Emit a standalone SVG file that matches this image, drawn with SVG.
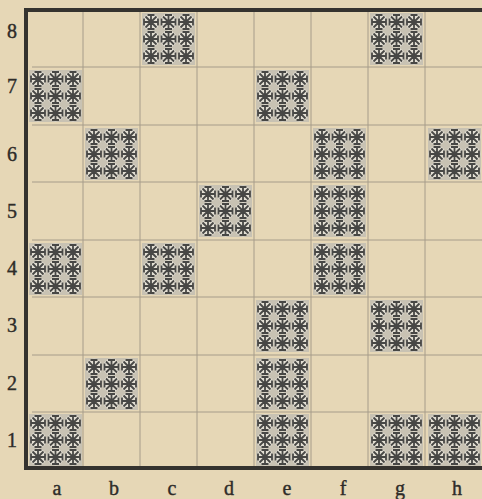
<svg xmlns="http://www.w3.org/2000/svg" xmlns:xlink="http://www.w3.org/1999/xlink" width="482" height="499" viewBox="0 0 482 499">
<style>
.bg{fill:#e6d7b6}
.grid{stroke:#a69c8a;stroke-width:1;fill:none}
.border{stroke:#35332f;fill:none}
.lbl{font-family:"Liberation Serif","DejaVu Serif",serif;font-size:20px;fill:#2e2c29;text-anchor:middle;stroke:#2e2c29;stroke-width:0.4}
.st{stroke:#474745;stroke-width:1.8;fill:none;stroke-linecap:butt}
</style>
<defs>
<g id="star">
<circle r="8.5" fill="#eeebe2" opacity="0.7"/>
<path class="st" d="M-7.5 0H7.5M0 -7.5V7.5M-5.5 -5.5L5.5 5.5M-5.5 5.5L5.5 -5.5M-3.5 -7H3.5M-3.5 7H3.5M-7 -3.5V3.5M7 -3.5V3.5"/>
</g>
<g id="blk">
<rect x="0" y="0" width="53" height="52" fill="#c8c2b3"/>
<use xlink:href="#star" x="9" y="9"/><use xlink:href="#star" x="26.5" y="9"/><use xlink:href="#star" x="44" y="9"/>
<use xlink:href="#star" x="9" y="26"/><use xlink:href="#star" x="26.5" y="26"/><use xlink:href="#star" x="44" y="26"/>
<use xlink:href="#star" x="9" y="43"/><use xlink:href="#star" x="26.5" y="43"/><use xlink:href="#star" x="44" y="43"/>
</g>
</defs>
<rect class="bg" x="0" y="0" width="482" height="499"/>
<g id="grid">
<path class="grid" d="M83 12V466M140 12V466M197 12V466M254 12V466M311 12V466M368 12V466M425 12V466"/>
<path class="grid" d="M32 67H482M32 125H482M32 182H482M32 240H482M32 297H482M32 355H482M32 412H482"/>
</g>
<g id="squares">
<g id="c8"><use xlink:href="#blk" x="142" y="13"/></g>
<g id="g8"><use xlink:href="#blk" x="370" y="13"/></g>
<g id="a7"><use xlink:href="#blk" x="29" y="70"/></g>
<g id="e7"><use xlink:href="#blk" x="256" y="70"/></g>
<g id="b6"><use xlink:href="#blk" x="85" y="128"/></g>
<g id="f6"><use xlink:href="#blk" x="313" y="128"/></g>
<g id="h6"><use xlink:href="#blk" x="428" y="128"/></g>
<g id="d5"><use xlink:href="#blk" x="199" y="185"/></g>
<g id="f5"><use xlink:href="#blk" x="313" y="185"/></g>
<g id="a4"><use xlink:href="#blk" x="29" y="243"/></g>
<g id="c4"><use xlink:href="#blk" x="142" y="243"/></g>
<g id="f4"><use xlink:href="#blk" x="313" y="243"/></g>
<g id="e3"><use xlink:href="#blk" x="256" y="300"/></g>
<g id="g3"><use xlink:href="#blk" x="370" y="300"/></g>
<g id="b2"><use xlink:href="#blk" x="85" y="358"/></g>
<g id="e2"><use xlink:href="#blk" x="256" y="358"/></g>
<g id="a1"><use xlink:href="#blk" x="29" y="414"/></g>
<g id="e1"><use xlink:href="#blk" x="256" y="414"/></g>
<g id="g1"><use xlink:href="#blk" x="370" y="414"/></g>
<g id="h1"><use xlink:href="#blk" x="428" y="414"/></g>
</g>
<g id="frame">
<path class="border" stroke-width="4" d="M24 10H482"/>
<path class="border" stroke-width="4" d="M26 10V470"/>
<path class="border" stroke-width="4" d="M24 468H482"/>
</g>
<g id="labels">
<text class="lbl" x="12" y="38">8</text>
<text class="lbl" x="12" y="93">7</text>
<text class="lbl" x="12" y="161">6</text>
<text class="lbl" x="12" y="218">5</text>
<text class="lbl" x="12" y="275">4</text>
<text class="lbl" x="12" y="332">3</text>
<text class="lbl" x="12" y="390">2</text>
<text class="lbl" x="12" y="447">1</text>
<text class="lbl" x="57" y="495">a</text>
<text class="lbl" x="114" y="495">b</text>
<text class="lbl" x="172" y="495">c</text>
<text class="lbl" x="229" y="495">d</text>
<text class="lbl" x="287" y="495">e</text>
<text class="lbl" x="343" y="495">f</text>
<text class="lbl" x="400" y="495">g</text>
<text class="lbl" x="457" y="495">h</text>
</g>
</svg>
